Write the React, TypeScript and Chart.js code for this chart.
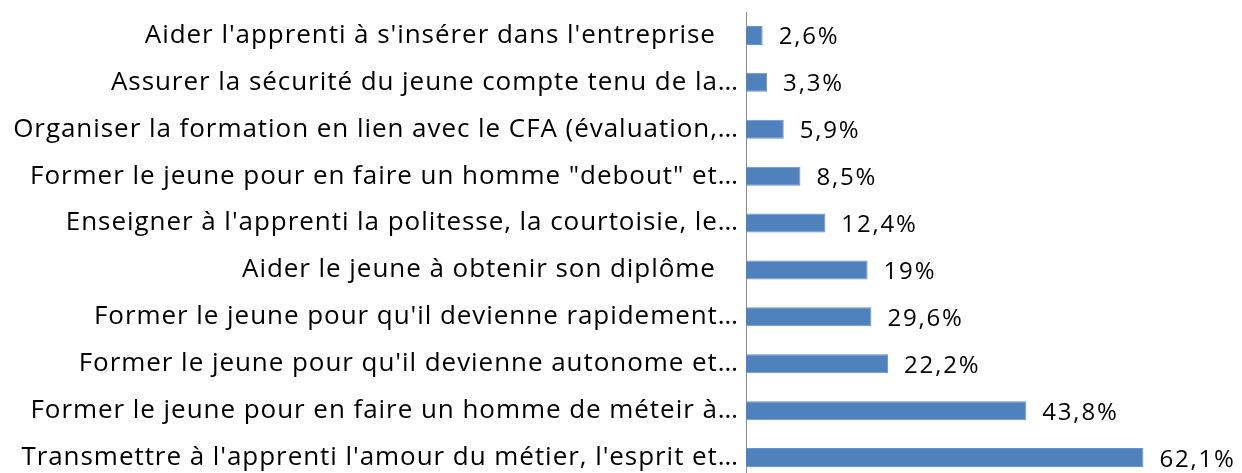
import React, { useEffect, useRef } from "react";
import { Chart, registerables } from "chart.js";

Chart.register(...registerables);

const categories: string[] = [
  "Aider l'apprenti à s'insérer dans l'entreprise   ",
  "Assurer la sécurité du jeune compte tenu de la…",
  "Organiser la formation en lien avec le CFA (évaluation,…",
  "Former le jeune pour en faire un homme \"debout\" et…",
  "Enseigner à l'apprenti la politesse, la courtoisie, le…",
  "Aider le jeune à obtenir son diplôme   ",
  "Former le jeune pour qu'il devienne rapidement…",
  "Former le jeune pour qu'il devienne autonome et…",
  "Former le jeune pour en faire un homme de méteir à…",
  "Transmettre à l'apprenti l'amour du métier, l'esprit et…",
];

// bar lengths as drawn in the picture
const values: number[] = [2.6, 3.3, 5.9, 8.5, 12.4, 19, 19.6, 22.2, 43.8, 62.1];
// data label texts as printed in the picture
const valueLabels: string[] = ["2,6%", "3,3%", "5,9%", "8,5%", "12,4%", "19%", "29,6%", "22,2%", "43,8%", "62,1%"];

const FONT = "'Open Sans', Lato, sans-serif";
const TICK_SIZE = 26;
const LABEL_SIZE = 24;

const spacingPlugin = {
  id: "letterSpacing",
  beforeDraw(chart: any) {
    chart.ctx.letterSpacing = "0.95px";
  },
};

const dataLabelPlugin = {
  id: "dataLabels",
  afterDatasetsDraw(chart: any) {
    const ctx = chart.ctx;
    const meta = chart.getDatasetMeta(0);
    ctx.save();
    ctx.font = `${LABEL_SIZE}px ${FONT}`;
    ctx.letterSpacing = "1.8px";
    ctx.fillStyle = "#000000";
    ctx.textAlign = "left";
    ctx.textBaseline = "alphabetic";
    meta.data.forEach((bar: any, i: number) => {
      ctx.fillText(valueLabels[i], bar.x + 16, bar.y + 9);
    });
    ctx.restore();
  },
};

export default function App() {
  const ref = useRef<HTMLCanvasElement | null>(null);
  useEffect(() => {
    if (!ref.current) return;
    const chart = new Chart(ref.current, {
      type: "bar",
      data: {
        labels: categories,
        datasets: [
          {
            data: values,
            backgroundColor: "#4F81BD",
            borderColor: "#6A95CC",
            borderWidth: 1,
            barPercentage: 0.405,
            categoryPercentage: 1,
          },
        ],
      },
      options: {
        indexAxis: "y",
        animation: false,
        responsive: false,
        maintainAspectRatio: false,
        layout: { padding: { top: 12, right: 48, bottom: 1, left: 0 } },
        plugins: { legend: { display: false }, tooltip: { enabled: false } },
        scales: {
          x: {
            min: 0,
            max: 70,
            display: false,
          },
          y: {
            grid: { display: false, drawTicks: false },
            border: { display: true, color: "#8C8C8C", width: 1 },
            ticks: {
              color: "#000000",
              padding: 7,
              autoSkip: false,
              font: { family: FONT, size: TICK_SIZE },
            },
            afterFit(scale: any) {
              scale.width = 746;
              scale.paddingTop = 0;
              scale.paddingBottom = 0;
            },
          },
        },
      },
      plugins: [spacingPlugin, dataLabelPlugin],
    });
    return () => chart.destroy();
  }, []);
  return (
    <div style={{ position: "absolute", left: 0, top: 0, width: 1242, height: 482, background: "#fff" }}>
      <canvas ref={ref} width={1242} height={482} style={{ display: "block" }} />
    </div>
  );
}
